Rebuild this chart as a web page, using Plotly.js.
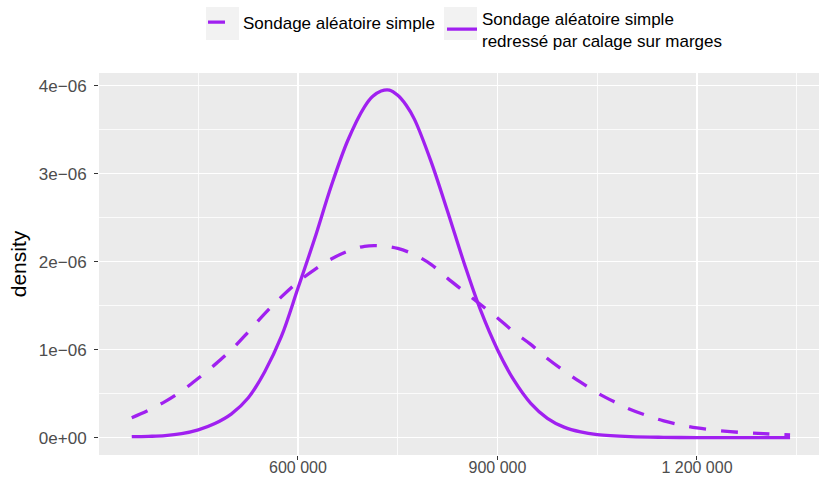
<!DOCTYPE html>
<html>
<head>
<meta charset="utf-8">
<script src="https://cdn.plot.ly/plotly-3.0.1.min.js"></script>
<style>html,body{margin:0;padding:0;background:#fff;}#chart{width:819px;height:479px;}</style>
</head>
<body>
<div id="chart"></div>
<script>
// Series 1: Sondage aléatoire simple (dashed)
const xSimple = [350000, 375000, 400000, 425000, 450000, 475000, 500000, 525000, 550000, 575000, 600000, 625000, 650000, 675000, 700000, 725000, 750000, 775000, 800000, 825000, 850000, 875000, 900000, 925000, 950000, 975000, 1000000, 1025000, 1050000, 1075000, 1100000, 1125000, 1150000, 1175000, 1200000, 1250000, 1300000, 1340000];
const ySimple = [0.227e-6, 0.31e-6, 0.41e-6, 0.53e-6, 0.675e-6, 0.83e-6, 1.0e-6, 1.2e-6, 1.41e-6, 1.6e-6, 1.77e-6, 1.91e-6, 2.03e-6, 2.12e-6, 2.175e-6, 2.18e-6, 2.15e-6, 2.08e-6, 1.97e-6, 1.81e-6, 1.66e-6, 1.51e-6, 1.36e-6, 1.2e-6, 1.06e-6, 0.9e-6, 0.76e-6, 0.63e-6, 0.51e-6, 0.41e-6, 0.32e-6, 0.25e-6, 0.19e-6, 0.145e-6, 0.11e-6, 0.068e-6, 0.045e-6, 0.03e-6];

// Series 2: Sondage aléatoire simple redressé par calage sur marges (solid)
const xCalage = [350000, 375000, 400000, 425000, 450000, 475000, 500000, 525000, 550000, 575000, 600000, 625000, 650000, 675000, 700000, 712500, 725000, 737500, 750000, 762500, 775000, 800000, 825000, 850000, 875000, 900000, 925000, 950000, 975000, 1000000, 1025000, 1050000, 1100000, 1150000, 1200000, 1250000, 1300000, 1340000];
const yCalage = [0.011e-6, 0.015e-6, 0.023e-6, 0.045e-6, 0.088e-6, 0.16e-6, 0.27e-6, 0.45e-6, 0.75e-6, 1.15e-6, 1.7e-6, 2.26e-6, 2.86e-6, 3.38e-6, 3.76e-6, 3.88e-6, 3.94e-6, 3.95e-6, 3.89e-6, 3.78e-6, 3.62e-6, 3.14e-6, 2.57e-6, 1.98e-6, 1.44e-6, 1.0e-6, 0.65e-6, 0.39e-6, 0.22e-6, 0.12e-6, 0.065e-6, 0.035e-6, 0.012e-6, 0.004e-6, 0.001e-6, 0, 0, 0];

const seriesNames = ["Sondage aléatoire simple", "Sondage aléatoire simple<br>redressé par calage sur marges"];

const xTickVals = [600000, 900000, 1200000];
const xTickText = ["600 000", "900 000", "1 200 000"];
const xMinorVals = [450000, 750000, 1050000, 1350000];
const yTickVals = [0, 1e-6, 2e-6, 3e-6, 4e-6];
const yTickText = ["0e+00", "1e\u221206", "2e\u221206", "3e\u221206", "4e\u221206"];
const yMinorVals = [0.5e-6, 1.5e-6, 2.5e-6, 3.5e-6];

const purple = "#A020F0";
const font = "Liberation Sans, Arial, sans-serif";

const traces = [
  {x: xSimple, y: ySimple, type: "scatter", mode: "lines", name: seriesNames[0], legend: "legend",
   line: {color: purple, width: 3.3, dash: "17px,15px", shape: "spline", smoothing: 1}},
  {x: xCalage, y: yCalage, type: "scatter", mode: "lines", name: seriesNames[1], legend: "legend2",
   line: {color: purple, width: 3.3, shape: "spline", smoothing: 1}}
];

const plotTop = 73, plotH = 382, plotL = 99, plotW = 720;
const py = (px) => 1 + (plotTop - px) / plotH;
const pxp = (px) => (px - plotL) / plotW;

const legendCommon = {orientation: "h", xanchor: "left",
  bgcolor: "rgba(0,0,0,0)", font: {family: font, size: 17, color: "#000"},
  valign: "middle", itemwidth: 30, borderwidth: 0};

const layout = {
  width: 819, height: 479,
  margin: {l: plotL, r: 0, t: plotTop, b: 24},
  paper_bgcolor: "#ffffff",
  plot_bgcolor: "#EBEBEB",
  font: {family: font, size: 17, color: "#000"},
  showlegend: true,
  legend: Object.assign({}, legendCommon, {x: pxp(203), y: py(22.5), yanchor: "middle"}),
  legend2: Object.assign({}, legendCommon, {x: pxp(442), y: py(0.5), yanchor: "top"}),
  xaxis: {range: [300750, 1383500], tickmode: "array", tickvals: xTickVals, ticktext: xTickText,
          showgrid: true, gridcolor: "#ffffff", gridwidth: 1.6, zeroline: false,
          ticks: "outside", ticklen: 4, tickcolor: "#333333", tickwidth: 1, ticklabelstandoff: -6,
          tickfont: {family: font, size: 16, color: "#4D4D4D"}, showline: false,
          minor: {tickmode: "array", tickvals: xMinorVals, showgrid: true, gridcolor: "#ffffff", gridwidth: 0.8, ticks: ""},
          automargin: false},
  yaxis: {range: [-0.197e-6, 4.144e-6], tickmode: "array", tickvals: yTickVals, ticktext: yTickText,
          showgrid: true, gridcolor: "#ffffff", gridwidth: 1.6, zeroline: false,
          ticks: "outside", ticklen: 4, tickcolor: "#333333", tickwidth: 1, ticklabelstandoff: 4,
          tickfont: {family: font, size: 17, color: "#4D4D4D"}, showline: false,
          minor: {tickmode: "array", tickvals: yMinorVals, showgrid: true, gridcolor: "#ffffff", gridwidth: 0.8, ticks: ""},
          title: {text: "density", font: {family: font, size: 21, color: "#000"}, standoff: 6},
          automargin: false},
  shapes: [
    {type: "rect", xref: "paper", yref: "paper", x0: pxp(206), x1: pxp(239), y0: py(40), y1: py(7),
     fillcolor: "#F2F2F2", line: {width: 0}, layer: "below"},
    {type: "rect", xref: "paper", yref: "paper", x0: pxp(444), x1: pxp(477), y0: py(40), y1: py(7),
     fillcolor: "#F2F2F2", line: {width: 0}, layer: "below"}
  ]
};

Plotly.newPlot("chart", traces, layout, {displayModeBar: false, staticPlot: true});
</script>
</body>
</html>
